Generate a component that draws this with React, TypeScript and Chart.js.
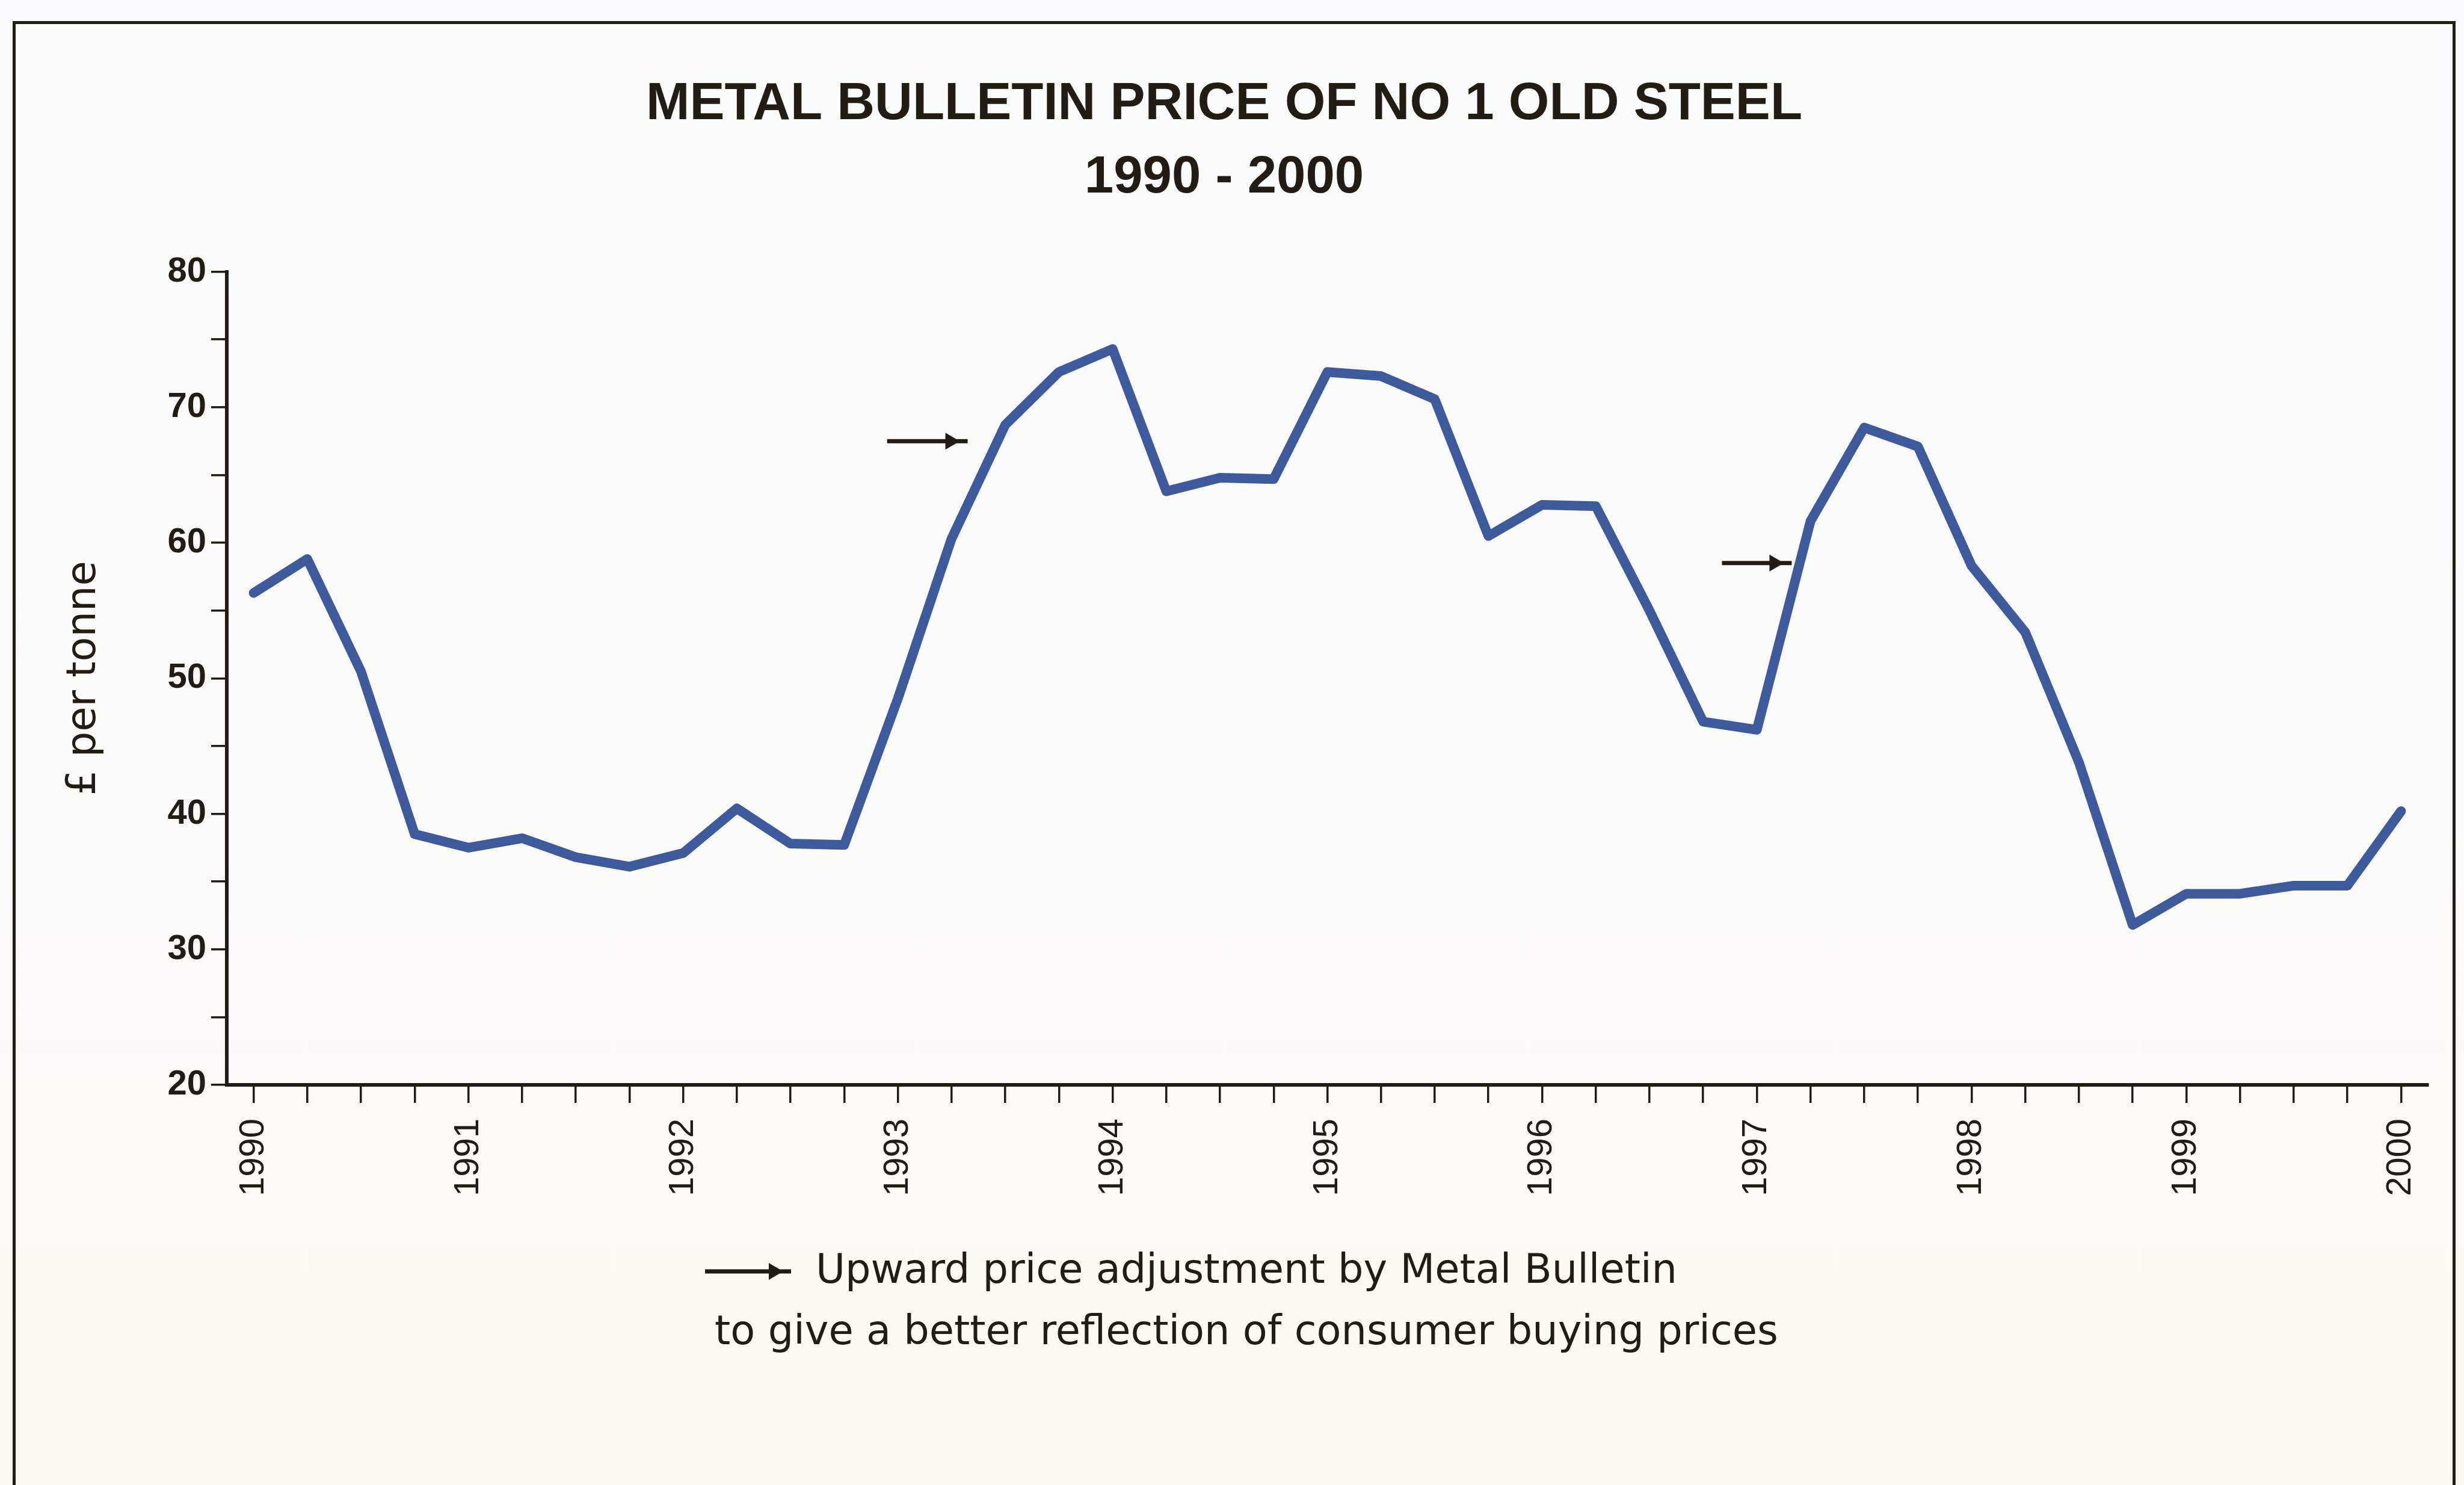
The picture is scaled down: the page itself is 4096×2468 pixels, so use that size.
import React, { useEffect, useRef } from 'react';
import { Chart, registerables } from 'chart.js';

Chart.register(...registerables);

const W = 4096;
const H = 2468;

// ---- data ----
const years = ['1990', '1991', '1992', '1993', '1994', '1995', '1996', '1997', '1998', '1999', '2000'];
const quarters = ['Q1', 'Q2', 'Q3', 'Q4'];
// £ per tonne, quarterly from 1990 Q1 to 2000 Q1
const prices = [
  56.3, 58.8, 50.5, 38.5,
  37.5, 38.2, 36.8, 36.1,
  37.1, 40.4, 37.8, 37.7,
  48.5, 60.3, 68.7, 72.6,
  74.3, 63.8, 64.8, 64.7,
  72.6, 72.3, 70.6, 60.5,
  62.8, 62.7, 55.0, 46.8,
  46.2, 61.6, 68.5, 67.1,
  58.3, 53.4, 43.8, 31.8,
  34.1, 34.1, 34.7, 34.7,
  40.2,
];
// price-adjustment arrows (in category index / value units)
const arrowFrom = [11.8, 27.35];
const arrowTo = [13.3, 28.65];
const arrowLevel = [67.5, 58.5];

const titleLines = ['METAL BULLETIN PRICE OF NO 1 OLD STEEL', '1990 - 2000'];
const yTitle = '£ per tonne';
const noteLines = [
  'Upward price adjustment by Metal Bulletin',
  'to give a better reflection of consumer buying prices',
];
const yMin = 20;
const yMax = 80;
const yStep = 5;
const yLabelStep = 10;

const categories = years.flatMap((yr) => quarters.map((q) => `${yr} ${q}`)).slice(0, prices.length);

// ---- style ----
const INK = '#211d15';
const LINE = '#3c5a9c';
const SANS = '"Liberation Sans", Arial, sans-serif';
const WIDE = '"DejaVu Sans", Verdana, sans-serif';

function drawArrow(ctx: CanvasRenderingContext2D, x0: number, x1: number, yy: number) {
  const tipGap = 13;
  const headLen = 24;
  const headHalf = 14;
  ctx.beginPath();
  ctx.moveTo(x0, yy);
  ctx.lineTo(x1, yy);
  ctx.stroke();
  ctx.beginPath();
  ctx.moveTo(x1 - tipGap, yy);
  ctx.lineTo(x1 - tipGap - headLen, yy - headHalf);
  ctx.lineTo(x1 - tipGap - headLen, yy + headHalf);
  ctx.closePath();
  ctx.fill();
}

const notesPlugin = {
  id: 'priceNotes',
  afterDatasetsDraw(chart: any) {
    const { ctx } = chart;
    const xs = chart.scales.x;
    const ys = chart.scales.y;
    ctx.save();
    ctx.strokeStyle = INK;
    ctx.fillStyle = INK;
    ctx.lineWidth = 7;
    arrowFrom.forEach((f, i) => {
      drawArrow(ctx, xs.getPixelForValue(f), xs.getPixelForValue(arrowTo[i]), ys.getPixelForValue(arrowLevel[i]));
    });
    // explanatory note under the axis
    const cx = 2072;
    const y1 = 2115;
    const y2 = 2217;
    ctx.font = `67px ${WIDE}`;
    ctx.textAlign = 'center';
    ctx.textBaseline = 'middle';
    ctx.fillText(noteLines[0], cx, y1);
    ctx.fillText(noteLines[1], cx, y2);
    const w0 = ctx.measureText(noteLines[0]).width;
    const ax1 = cx - w0 / 2 - 41;
    drawArrow(ctx, ax1 - 143, ax1, y1 - 2);
    ctx.restore();
  },
};

export default function App() {
  const canvasRef = useRef<HTMLCanvasElement | null>(null);

  useEffect(() => {
    if (!canvasRef.current) return;
    const chart = new Chart(canvasRef.current, {
      type: 'line',
      data: {
        labels: categories,
        datasets: [
          {
            data: prices,
            borderColor: LINE,
            borderWidth: 16,
            pointRadius: 0,
            tension: 0,
            fill: false,
            borderJoinStyle: 'round',
            borderCapStyle: 'round',
          },
        ],
      },
      options: {
        animation: false,
        responsive: true,
        maintainAspectRatio: false,
        devicePixelRatio: 1,
        layout: { padding: { left: 34, right: 60, top: 0, bottom: 465 } },
        plugins: {
          legend: { display: false },
          tooltip: { enabled: false },
          title: {
            display: true,
            text: titleLines,
            color: INK,
            font: { family: SANS, size: 87, weight: 'bold', lineHeight: 1.4 },
            padding: { top: 113, bottom: 95 },
          },
        },
        scales: {
          x: {
            type: 'category',
            offset: true,
            grid: {
              display: true,
              drawOnChartArea: false,
              drawTicks: true,
              tickLength: 30,
              lineWidth: 3.5,
              tickWidth: 3.5,
              color: INK,
              tickColor: INK,
              offset: false,
            },
            border: { display: true, color: INK, width: 6 },
            ticks: {
              autoSkip: false,
              maxRotation: 90,
              minRotation: 90,
              padding: 26,
              color: INK,
              font: { family: SANS, size: 58 },
              callback: (_v: any, index: number) => {
                const c = categories[index];
                return c.endsWith(quarters[0]) ? c.slice(0, 4) : '';
              },
            },
            afterFit: (s: any) => {
              s.height = 200;
            },
          },
          y: {
            min: yMin,
            max: yMax,
            grid: {
              display: true,
              drawOnChartArea: false,
              drawTicks: true,
              tickLength: 26,
              lineWidth: 3.5,
              tickWidth: 3.5,
              color: INK,
              tickColor: INK,
            },
            border: { display: true, color: INK, width: 6 },
            ticks: {
              stepSize: yStep,
              padding: 8,
              color: INK,
              font: { family: SANS, size: 58, weight: 'bold' },
              callback: (v: any) => (Number(v) % yLabelStep === 0 ? String(v) : ''),
            },
            title: {
              display: true,
              text: yTitle,
              color: INK,
              font: { family: WIDE, size: 67 },
              padding: { top: 66, bottom: 0 },
            },
            afterFit: (s: any) => {
              s.width = 343;
            },
          },
        },
      },
      plugins: [notesPlugin],
    } as any);
    return () => chart.destroy();
  }, []);

  return (
    <div
      style={{
        position: 'absolute',
        left: 0,
        top: 0,
        width: W,
        height: H,
        overflow: 'hidden',
        background: 'linear-gradient(180deg, #fafbfc 0%, #fbfbf9 55%, #fcfaf1 100%)',
      }}
    >
      <div
        style={{
          position: 'absolute',
          left: 21,
          top: 35,
          width: 4061,
          height: 2600,
          boxSizing: 'border-box',
          borderLeft: `5px solid ${INK}`,
          borderTop: `5px solid ${INK}`,
          borderRight: `5px solid ${INK}`,
        }}
      />
      <div style={{ position: 'absolute', left: 0, top: 0, width: W, height: H }}>
        <canvas ref={canvasRef} />
      </div>
    </div>
  );
}
